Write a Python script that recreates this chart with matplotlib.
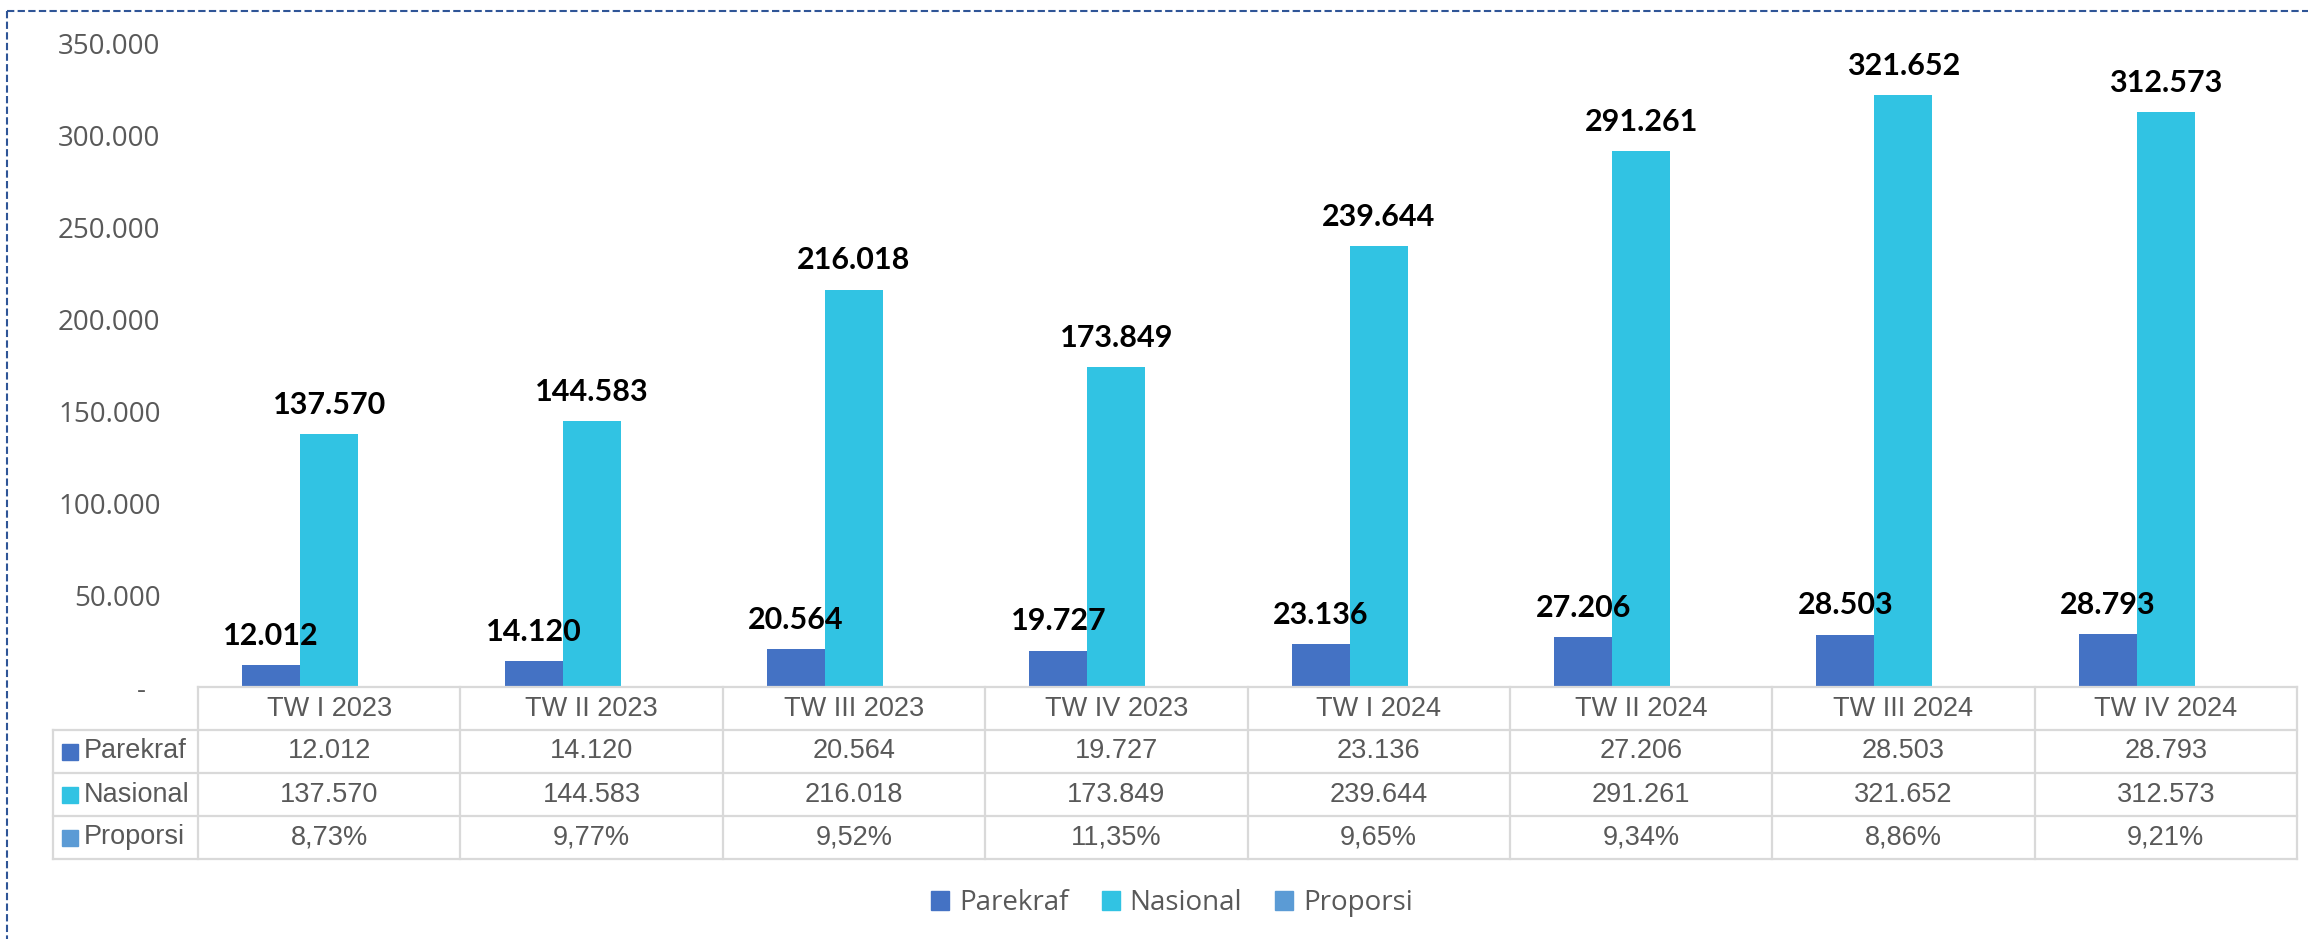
import matplotlib
matplotlib.use("Agg")
from matplotlib import pyplot as plt
from matplotlib.lines import Line2D
from matplotlib.patches import Patch
from matplotlib.ticker import FuncFormatter
import numpy as np

W, H = 2308, 939

categories = ["TW I 2023", "TW II 2023", "TW III 2023", "TW IV 2023",
              "TW I 2024", "TW II 2024", "TW III 2024", "TW IV 2024"]
parekraf = [12012, 14120, 20564, 19727, 23136, 27206, 28503, 28793]
nasional = [137570, 144583, 216018, 173849, 239644, 291261, 321652, 312573]
proporsi = [8.73, 9.77, 9.52, 11.35, 9.65, 9.34, 8.86, 9.21]

series_names = ["Parekraf", "Nasional", "Proporsi"]
colors = ["#4472C4", "#31C3E3", "#5B9BD5"]
TEXT = "#595959"
GRID = "#D9D9D9"


def thousands(v):
    return f"{v:,}".replace(",", ".")


def percent(v):
    return f"{v:.2f}%".replace(".", ",")


def fx(px):
    return px / W


def fy(py):
    return 1 - py / H


fig = plt.figure(figsize=(W / 100, H / 100), dpi=100)

# --- bars ---
ax_left, ax_right, ax_zero, ax_top = 198, 2297, 687, 43
ax = fig.add_axes([fx(ax_left), fy(ax_zero), fx(ax_right - ax_left), (ax_zero - ax_top) / H])
x = np.arange(len(categories))
w = 58 / 262.4
b1 = ax.bar(x - w, parekraf, w, color=colors[0])
b2 = ax.bar(x, nasional, w, color=colors[1])
ax.bar(x + w, proporsi, w, color=colors[2])
for bars in (b1, b2):
    ax.bar_label(bars, labels=[thousands(v) for v in bars.datavalues], padding=11,
                 fontsize=22, fontweight="bold", family="Lato", color="black")

ax.set_xlim(-0.5, len(categories) - 0.5)
ax.set_ylim(0, 350000)
ax.set_yticks(range(0, 350001, 50000))
ax.yaxis.set_major_formatter(FuncFormatter(lambda v, p: "-  " if v == 0 else thousands(int(v))))
ax.tick_params(axis="y", length=0, pad=27, labelsize=20, labelcolor=TEXT)
for lab in ax.get_yticklabels():
    lab.set_family("Open Sans")
ax.set_xticks([])
for s in ax.spines.values():
    s.set_visible(False)

# --- data table ---
tab_left, tab_bottom = 53, 859
unit = (ax_right - ax_left) / len(categories)
x0 = -0.5 - (ax_left - tab_left) / unit
tab = fig.add_axes([fx(tab_left), fy(tab_bottom), fx(ax_right - tab_left), (tab_bottom - ax_zero) / H])
tab.set_xlim(x0, len(categories) - 0.5)
tab.set_ylim(0, 4)
tab.axis("off")

line_kw = dict(color=GRID, lw=1.6, clip_on=False)
tab.plot([-0.5, len(categories) - 0.5], [4, 4], **line_kw)
for yy in (0, 1, 2, 3):
    tab.plot([x0, len(categories) - 0.5], [yy, yy], **line_kw)
for xx in np.arange(-0.5, len(categories), 1.0):
    tab.plot([xx, xx], [0, 4], **line_kw)
tab.plot([x0, x0], [0, 3], **line_kw)

txt_kw = dict(fontsize=19.5, family="Liberation Sans", color=TEXT, va="center")
for i, cat in enumerate(categories):
    tab.text(i, 3.5, cat, ha="center", **txt_kw)

rows = [[thousands(v) for v in parekraf],
        [thousands(v) for v in nasional],
        [percent(v) for v in proporsi]]
for r, (name, col, vals) in enumerate(zip(series_names, colors, rows)):
    yy = 2.5 - r
    tab.plot([x0 + (70 - tab_left) / unit], [yy], marker="s", ms=11.5, color=col,
             clip_on=False, lw=0)
    tab.text(x0 + (84 - tab_left) / unit, yy, name, ha="left", **txt_kw)
    for i, v in enumerate(vals):
        tab.text(i, yy, v, ha="center", **txt_kw)

# --- legend ---
handles = [Patch(color=c, label=n) for c, n in zip(colors, series_names)]
leg = fig.legend(handles=handles, loc="center", bbox_to_anchor=(fx(1172), fy(903)),
                 ncol=3, frameon=False, handlelength=0.65, handleheight=0.65,
                 handletextpad=0.35, columnspacing=1.2,
                 prop={"family": "Open Sans", "size": 20})
for t in leg.get_texts():
    t.set_color(TEXT)

# --- dashed border ---
border_kw = dict(color="#2F5597", lw=1.5, linestyle=(0, (3.5, 1.6)), transform=fig.transFigure)
fig.add_artist(Line2D([fx(7), fx(7)], [fy(11), 0], **border_kw))
fig.add_artist(Line2D([fx(7), 1], [fy(11), fy(11)], **border_kw))

fig.savefig("out.png", dpi=100, facecolor="white")
